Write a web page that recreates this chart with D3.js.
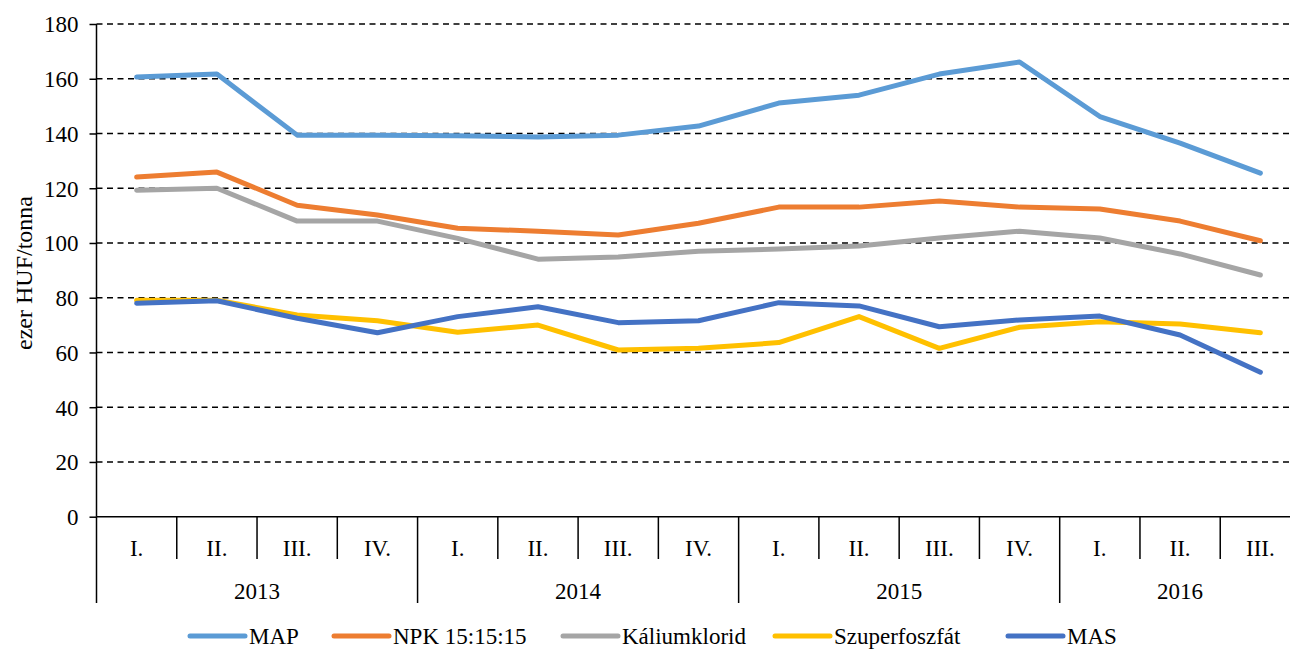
<!DOCTYPE html>
<html>
<head>
<meta charset="utf-8">
<script src="https://cdn.jsdelivr.net/npm/d3@7"></script>
<style>
  body { margin: 0; background: #fff; overflow: hidden; }
</style>
</head>
<body>
<script>
const quarters = ['I.', 'II.', 'III.', 'IV.', 'I.', 'II.', 'III.', 'IV.', 'I.', 'II.', 'III.', 'IV.', 'I.', 'II.', 'III.']
const years = ['2013', '2014', '2015', '2016']
const yearSpans = [4, 4, 4, 3]
const yTicks = [0, 20, 40, 60, 80, 100, 120, 140, 160, 180]

const map = [160.6, 161.7, 139.4, 139.4, 139.2, 138.7, 139.4, 142.7, 151.1, 154.0, 161.7, 166.1, 146.2, 136.5, 125.5]
const npk = [124.1, 125.9, 113.8, 110.2, 105.4, 104.3, 102.9, 107.2, 113.1, 113.1, 115.3, 113.1, 112.4, 108.0, 100.8]
const kalium = [119.3, 120.0, 108.0, 108.0, 101.7, 94.1, 94.9, 97.0, 97.8, 98.9, 101.8, 104.3, 101.8, 96.0, 88.3]
const szuper = [79.1, 79.1, 73.7, 71.6, 67.4, 70.0, 60.9, 61.5, 63.6, 73.1, 61.5, 69.2, 71.2, 70.4, 67.2]
const mas = [78.0, 78.9, 72.5, 67.2, 73.1, 76.7, 70.9, 71.6, 78.2, 77.0, 69.4, 71.9, 73.3, 66.4, 52.8]

const series = [
  { name: 'MAP', values: map, color: '#5B9BD5' },
  { name: 'NPK 15:15:15', values: npk, color: '#ED7D31' },
  { name: 'Káliumklorid', values: kalium, color: '#A5A5A5' },
  { name: 'Szuperfoszfát', values: szuper, color: '#FFC000' },
  { name: 'MAS', values: mas, color: '#4472C4' }
]

const font = '"Liberation Serif", "Times New Roman", Times, serif'
const width = 1290, height = 651
const svg = d3.select('body').append('svg')
  .attr('width', width)
  .attr('height', height)
  .style('font-family', font)

const plotLeft = 96.5, plotRight = 1300.5, plotTop = 24, plotBottom = 516.7

const x = d3.scaleBand()
  .domain(d3.range(quarters.length))
  .range([plotLeft, plotRight])
  .padding(0)

const y = d3.scaleLinear()
  .domain([0, 180])
  .range([plotBottom, plotTop])

// gridlines
svg.append('g').selectAll('line')
  .data(yTicks.filter(d => d > 0))
  .enter().append('line')
  .attr('x1', plotLeft)
  .attr('x2', width)
  .attr('y1', d => y(d))
  .attr('y2', d => y(d))
  .style('stroke', '#000')
  .style('stroke-width', 1.6)
  .style('stroke-dasharray', '6,4.5')

// y axis
const yAxis = svg.append('g')
  .attr('transform', `translate(${plotLeft}, 0)`)
  .call(d3.axisLeft(y).tickValues(yTicks).tickSize(7).tickPadding(11))
yAxis.attr('font-family', null).attr('font-size', null)
yAxis.select('.domain').style('stroke', '#000').style('stroke-width', 1.5)
  .attr('d', `M0,${plotTop}V${plotBottom}`)
yAxis.selectAll('.tick line').style('stroke', '#000').style('stroke-width', 1.5)
yAxis.selectAll('.tick text')
  .style('font-family', font)
  .style('font-size', '23px')
  .style('fill', '#000')
  .attr('dy', '0.34em')

svg.append('line')
  .attr('x1', plotLeft).attr('x2', plotLeft)
  .attr('y1', plotBottom).attr('y2', 603)
  .style('stroke', '#000').style('stroke-width', 1.5)

// x axis baseline
svg.append('line')
  .attr('x1', plotLeft).attr('x2', width)
  .attr('y1', plotBottom).attr('y2', plotBottom)
  .style('stroke', '#000').style('stroke-width', 1.5)

// quarter separators
svg.append('g').selectAll('line')
  .data(d3.range(1, quarters.length))
  .enter().append('line')
  .attr('x1', d => x(d))
  .attr('x2', d => x(d))
  .attr('y1', plotBottom)
  .attr('y2', 559)
  .style('stroke', '#000')
  .style('stroke-width', 1.5)

svg.append('g').selectAll('text')
  .data(quarters)
  .enter().append('text')
  .attr('x', (d, i) => x(i) + x.bandwidth() / 2)
  .attr('y', 548)
  .attr('dy', '0.35em')
  .style('text-anchor', 'middle')
  .style('font-size', '23px')
  .text(d => d)

// year separators and labels
const starts = yearSpans.map((s, i) => d3.sum(yearSpans.slice(0, i)))
svg.append('g').selectAll('line')
  .data(starts.slice(1))
  .enter().append('line')
  .attr('x1', d => x(d))
  .attr('x2', d => x(d))
  .attr('y1', 559)
  .attr('y2', 603)
  .style('stroke', '#000')
  .style('stroke-width', 1.5)

svg.append('g').selectAll('text')
  .data(years)
  .enter().append('text')
  .attr('x', (d, i) => (x(starts[i]) + x(starts[i] + yearSpans[i] - 1) + x.bandwidth()) / 2)
  .attr('y', 591)
  .attr('dy', '0.35em')
  .style('text-anchor', 'middle')
  .style('font-size', '23px')
  .text(d => d)

// y title
svg.append('text')
  .attr('transform', 'translate(24, 273) rotate(-90)')
  .attr('dy', '0.35em')
  .style('text-anchor', 'middle')
  .style('font-size', '24px')
  .text('ezer HUF/tonna')

// lines
const line = d3.line()
  .x((d, i) => x(i) + x.bandwidth() / 2)
  .y(d => y(d))

svg.append('g').selectAll('path')
  .data(series)
  .enter().append('path')
  .attr('d', d => line(d.values))
  .style('fill', 'none')
  .style('stroke', d => d.color)
  .style('stroke-width', 5)
  .style('stroke-linejoin', 'round')
  .style('stroke-linecap', 'round')

// legend
const legendX = [190, 334, 563, 775, 1008]
const legend = svg.append('g').selectAll('g')
  .data(series)
  .enter().append('g')
  .attr('transform', (d, i) => `translate(${legendX[i]}, 636)`)

legend.append('line')
  .attr('x1', 0).attr('x2', 55)
  .style('stroke', d => d.color)
  .style('stroke-width', 5)
  .style('stroke-linecap', 'round')

legend.append('text')
  .attr('x', 59)
  .attr('dy', '0.35em')
  .style('font-size', '23px')
  .text(d => d.name)
</script>
</body>
</html>
